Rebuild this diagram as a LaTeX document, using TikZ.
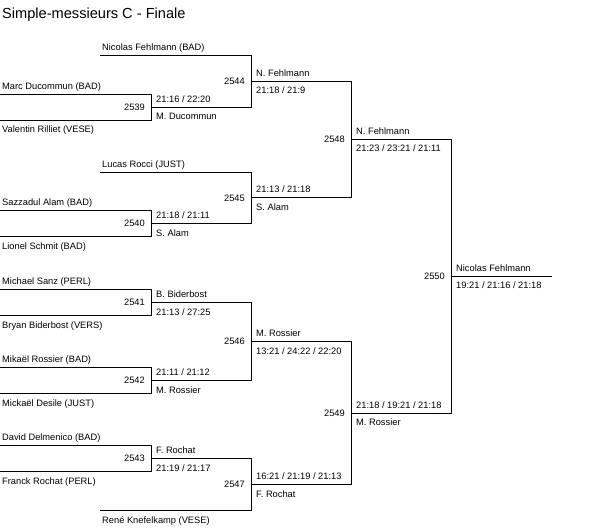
\documentclass[tikz,border=0pt]{standalone}
\usepackage{fontspec}
\setmainfont{Liberation Sans}
\begin{document}
\begin{tikzpicture}[x=1pt,y=-1pt,
  lbl/.style={inner sep=0pt,font=\fontsize{9.3}{11}\selectfont},
  upw/.style={lbl,anchor=base west,xshift=5pt,yshift=5pt},
  dnw/.style={lbl,anchor=base west,xshift=5pt,yshift=-12.5pt},
  eup/.style={lbl,anchor=base west,xshift=2pt,yshift=5pt},
  edn/.style={lbl,anchor=base west,xshift=2pt,yshift=-12.5pt},
  num/.style={lbl,anchor=base east,xshift=-6pt,yshift=-3.4pt},
  br/.style={line width=1pt,line cap=rect}]
\useasboundingbox (0,0) rectangle (602,531);
\node[inner sep=0pt,anchor=base west,font=\fontsize{14.6}{16}\selectfont] (title) at (2,18) {Simple-messieurs C - Finale};
% entries
\coordinate (e1) at (100,55);
\coordinate (e2) at (0,94);
\coordinate (e3) at (0,120);
\coordinate (e4) at (100,172);
\coordinate (e5) at (0,210.5);
\coordinate (e6) at (0,236.5);
\coordinate (e7) at (0,289.5);
\coordinate (e8) at (0,315.5);
\coordinate (e9) at (0,367.5);
\coordinate (e10) at (0,393.5);
\coordinate (e11) at (0,445.5);
\coordinate (e12) at (0,471.5);
\coordinate (e13) at (100,510.5);
% matches
\coordinate (m2539) at (151,107);
\coordinate (m2540) at (151,223.5);
\coordinate (m2541) at (151,302.5);
\coordinate (m2542) at (151,380.5);
\coordinate (m2543) at (151,458.5);
\coordinate (m2544) at (251,81);
\coordinate (m2545) at (251,197.75);
\coordinate (m2546) at (251,341.5);
\coordinate (m2547) at (251,484.5);
\coordinate (m2548) at (351,139.4);
\coordinate (m2549) at (351,413);
\coordinate (m2550) at (451,276.2);
\coordinate (win) at (551,276.2);
% lines
\draw[br] (e2) -| (m2539) (e3) -| (m2539);
\draw[br] (e5) -| (m2540) (e6) -| (m2540);
\draw[br] (e7) -| (m2541) (e8) -| (m2541);
\draw[br] (e9) -| (m2542) (e10) -| (m2542);
\draw[br] (e11) -| (m2543) (e12) -| (m2543);
\draw[br] (e1) -| (m2544) (m2539) -| (m2544);
\draw[br] (e4) -| (m2545) (m2540) -| (m2545);
\draw[br] (m2541) -| (m2546) (m2542) -| (m2546);
\draw[br] (m2543) -| (m2547) (e13) -| (m2547);
\draw[br] (m2544) -| (m2548) (m2545) -| (m2548);
\draw[br] (m2546) -| (m2549) (m2547) -| (m2549);
\draw[br] (m2548) -| (m2550) (m2549) -| (m2550);
\draw[br] (m2550) -- (win);
% entry labels
\node[eup] (t1) at (e1) {Nicolas Fehlmann (BAD)};
\node[eup] (t2) at (e2) {Marc Ducommun (BAD)};
\node[edn] (t3) at (e3) {Valentin Rilliet (VESE)};
\node[eup] (t4) at (e4) {Lucas Rocci (JUST)};
\node[eup] (t5) at (e5) {Sazzadul Alam (BAD)};
\node[edn] (t6) at (e6) {Lionel Schmit (BAD)};
\node[eup] (t7) at (e7) {Michael Sanz (PERL)};
\node[edn] (t8) at (e8) {Bryan Biderbost (VERS)};
\node[eup] (t9) at (e9) {Mikaël Rossier (BAD)};
\node[edn] (t10) at (e10) {Mickaël Desile (JUST)};
\node[eup] (t11) at (e11) {David Delmenico (BAD)};
\node[edn] (t12) at (e12) {Franck Rochat (PERL)};
\node[edn] (t13) at (e13) {René Knefelkamp (VESE)};
% match numbers
\node[num] (n2539) at (m2539) {2539};
\node[num] (n2540) at (m2540) {2540};
\node[num] (n2541) at (m2541) {2541};
\node[num] (n2542) at (m2542) {2542};
\node[num] (n2543) at (m2543) {2543};
\node[num] (n2544) at (m2544) {2544};
\node[num] (n2545) at (m2545) {2545};
\node[num] (n2546) at (m2546) {2546};
\node[num] (n2547) at (m2547) {2547};
\node[num] (n2548) at (m2548) {2548};
\node[num] (n2549) at (m2549) {2549};
\node[num] (n2550) at (m2550) {2550};
% winners and scores
\node[upw] (a2539) at (m2539) {21:16 / 22:20};
\node[dnw] (b2539) at (m2539) {M. Ducommun};
\node[upw] (a2540) at (m2540) {21:18 / 21:11};
\node[dnw] (b2540) at (m2540) {S. Alam};
\node[upw] (a2541) at (m2541) {B. Biderbost};
\node[dnw] (b2541) at (m2541) {21:13 / 27:25};
\node[upw] (a2542) at (m2542) {21:11 / 21:12};
\node[dnw] (b2542) at (m2542) {M. Rossier};
\node[upw] (a2543) at (m2543) {F. Rochat};
\node[dnw] (b2543) at (m2543) {21:19 / 21:17};
\node[upw] (a2544) at (m2544) {N. Fehlmann};
\node[dnw] (b2544) at (m2544) {21:18 / 21:9};
\node[upw] (a2545) at (m2545) {21:13 / 21:18};
\node[dnw] (b2545) at (m2545) {S. Alam};
\node[upw] (a2546) at (m2546) {M. Rossier};
\node[dnw] (b2546) at (m2546) {13:21 / 24:22 / 22:20};
\node[upw] (a2547) at (m2547) {16:21 / 21:19 / 21:13};
\node[dnw] (b2547) at (m2547) {F. Rochat};
\node[upw] (a2548) at (m2548) {N. Fehlmann};
\node[dnw] (b2548) at (m2548) {21:23 / 23:21 / 21:11};
\node[upw] (a2549) at (m2549) {21:18 / 19:21 / 21:18};
\node[dnw] (b2549) at (m2549) {M. Rossier};
\node[upw] (a2550) at (m2550) {Nicolas Fehlmann};
\node[dnw] (b2550) at (m2550) {19:21 / 21:16 / 21:18};
\end{tikzpicture}
\end{document}
